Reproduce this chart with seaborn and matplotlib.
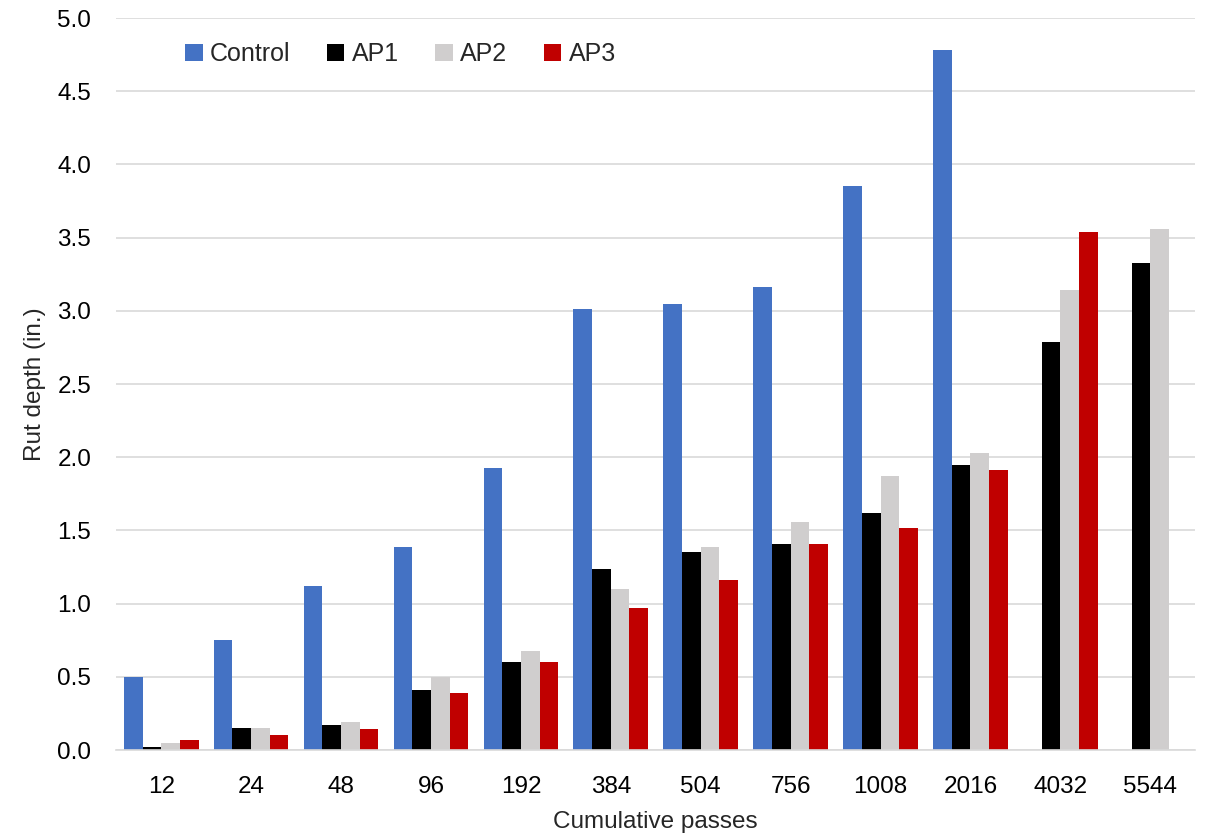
import numpy as np
import pandas as pd
import matplotlib
matplotlib.use("Agg")
import matplotlib.pyplot as plt
import seaborn as sns

passes = ["12", "24", "48", "96", "192", "384", "504", "756", "1008", "2016", "4032", "5544"]
control = [0.50, 0.75, 1.12, 1.39, 1.93, 3.01, 3.05, 3.16, 3.85, 4.78, np.nan, np.nan]
ap1 = [0.02, 0.15, 0.17, 0.41, 0.60, 1.24, 1.35, 1.41, 1.62, 1.95, 2.79, 3.33]
ap2 = [0.045, 0.15, 0.19, 0.50, 0.68, 1.10, 1.39, 1.56, 1.87, 2.03, 3.14, 3.56]
ap3 = [0.07, 0.10, 0.145, 0.39, 0.60, 0.97, 1.16, 1.41, 1.52, 1.91, 3.54, np.nan]
series_names = ["Control", "AP1", "AP2", "AP3"]
colors = ["#4472C4", "#000000", "#D0CECE", "#C00000"]

rows = []
for name, vals in zip(series_names, [control, ap1, ap2, ap3]):
    for p, v in zip(passes, vals):
        rows.append({"passes": p, "series": name, "depth": v})
df = pd.DataFrame(rows)

sns.set_theme(style="white")
plt.rcParams["font.family"] = ["Liberation Sans", "DejaVu Sans"]

fig = plt.figure(figsize=(12.11, 8.39), dpi=100)
ax = fig.add_axes([0.096, 0.106, 0.891, 0.8725])

sns.barplot(data=df, x="passes", y="depth", hue="series", order=passes,
            hue_order=series_names, palette=colors, width=0.83, gap=0,
            saturation=1, errorbar=None, ax=ax, linewidth=0)

ax.set_ylim(0, 5.0)
ax.set_yticks(np.arange(0, 5.01, 0.5))
ax.set_yticklabels([f"{v:.1f}" for v in np.arange(0, 5.01, 0.5)])
ax.set_xlim(-0.5, len(passes) - 0.5)
ax.yaxis.grid(True, color="#D9D9D9", linewidth=1.2)
ax.set_axisbelow(True)
for s in ["top", "right", "left"]:
    ax.spines[s].set_visible(False)
ax.spines["bottom"].set_color("#D9D9D9")
ax.spines["bottom"].set_linewidth(1.2)
ax.tick_params(axis="both", length=0, labelsize=17.5, colors="#000000")
ax.tick_params(axis="y", pad=18)
ax.tick_params(axis="x", pad=19)
ax.set_xlabel("Cumulative passes", fontsize=17.5, labelpad=9)
ax.set_ylabel("Rut depth (in.)", fontsize=17.5, labelpad=8)

leg = ax.legend(loc="upper left", bbox_to_anchor=(0.043, 0.998), ncol=4,
                frameon=False, fontsize=18, handlelength=0.7, handleheight=0.7,
                handletextpad=0.3, columnspacing=1.45)

fig.savefig("out.png", dpi=100)
